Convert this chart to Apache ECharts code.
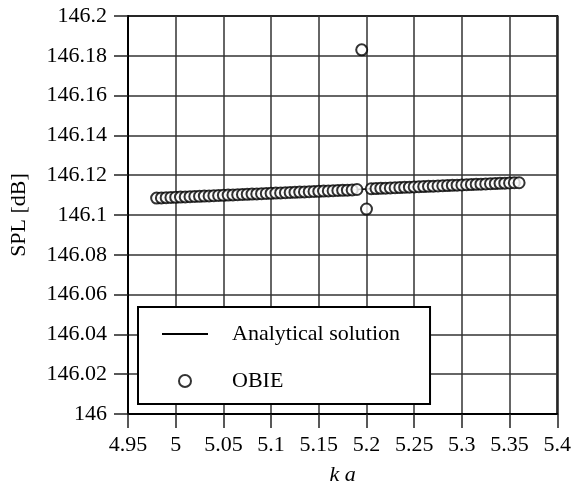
<!DOCTYPE html>
<html>
<head>
<meta charset="utf-8">
<script src="https://cdn.jsdelivr.net/npm/echarts@6/dist/echarts.min.js"></script>
<style>html,body{margin:0;padding:0;background:#fff}#c{width:574px;height:491px}</style>
</head>
<body>
<div id="c"></div>
<script>
// x-axis ticks
var xTicks = [4.95, 5, 5.05, 5.1, 5.15, 5.2, 5.25, 5.3, 5.35, 5.4];
var yTicks = [146, 146.02, 146.04, 146.06, 146.08, 146.1, 146.12, 146.14, 146.16, 146.18, 146.2];

// OBIE data
var obieX = [4.98,4.985,4.99,4.995,5.0,5.005,5.01,5.015,5.02,5.025,5.03,5.035,5.04,5.045,5.05,5.055,5.06,5.065,5.07,5.075,5.08,5.085,5.09,5.095,5.1,5.105,5.11,5.115,5.12,5.125,5.13,5.135,5.14,5.145,5.15,5.155,5.16,5.165,5.17,5.175,5.18,5.185,5.19,
  5.195,5.2,
  5.205,5.21,5.215,5.22,5.225,5.23,5.235,5.24,5.245,5.25,5.255,5.26,5.265,5.27,5.275,5.28,5.285,5.29,5.295,5.3,5.305,5.31,5.315,5.32,5.325,5.33,5.335,5.34,5.345,5.35,5.355,5.36];
var obieY = [146.1085,146.1086,146.1087,146.1088,146.1089,146.1090,146.1091,146.1092,146.1093,146.1094,146.1095,146.1096,146.1097,146.1098,146.1099,146.1100,146.1101,146.1102,146.1103,146.1104,146.1105,146.1106,146.1107,146.1108,146.1109,146.1110,146.1111,146.1112,146.1113,146.1114,146.1115,146.1116,146.1117,146.1118,146.1119,146.1120,146.1121,146.1122,146.1123,146.1124,146.1125,146.1126,146.1128,
  146.183,146.103,
  146.1132,146.1133,146.1134,146.1135,146.1136,146.1137,146.1138,146.1139,146.1140,146.1141,146.1142,146.1143,146.1144,146.1145,146.1146,146.1147,146.1148,146.1149,146.1150,146.1151,146.1152,146.1153,146.1154,146.1155,146.1156,146.1157,146.1158,146.1159,146.1160,146.1161,146.1162,146.1162];

// Analytical solution
var anaX = [4.98, 5.19, 5.205, 5.36];
var anaY = [146.1085, 146.1128, 146.1132, 146.1162];

function pairs(xs, ys){ return xs.map(function(x,i){ return [x, ys[i]]; }); }
function fmt(v){ return String(parseFloat(Number(v).toFixed(2))); }

var FONT = '"Liberation Serif", "DejaVu Serif", serif';
var chart = echarts.init(document.getElementById('c'), null, {renderer:'canvas'});
chart.setOption({
  animation: false,
  backgroundColor: '#fff',
  textStyle: {fontFamily: FONT},
  grid: {left:127, right:15, top:16, bottom:72, show:true, borderColor:'#000', borderWidth:2, backgroundColor:'transparent'},
  xAxis: {
    type:'value', min:xTicks[0], max:xTicks[xTicks.length-1], interval:0.05,
    name:'k a', nameLocation:'middle', nameGap:50,
    nameTextStyle:{fontFamily:FONT, fontSize:22, fontStyle:'italic', color:'#000'},
    axisLine:{show:true, onZero:false, lineStyle:{color:'#000', width:2}},
    axisTick:{show:true, inside:false, length:14, lineStyle:{color:'#222', width:1.5}},
    axisLabel:{formatter:fmt, fontFamily:FONT, fontSize:22, color:'#000', margin:20},
    splitLine:{show:true, lineStyle:{color:'#333', width:1.5}}
  },
  yAxis: {
    type:'value', min:yTicks[0], max:yTicks[yTicks.length-1], interval:0.02,
    name:'SPL [dB]', nameLocation:'middle', nameGap:98, nameRotate:90,
    nameTextStyle:{fontFamily:FONT, fontSize:22, color:'#000'},
    axisLine:{show:true, onZero:false, lineStyle:{color:'#000', width:2}},
    axisTick:{show:true, inside:false, length:14, lineStyle:{color:'#222', width:1.5}},
    axisLabel:{formatter:fmt, fontFamily:FONT, fontSize:22, color:'#000', margin:21},
    splitLine:{show:true, lineStyle:{color:'#333', width:1.5}}
  },
  legend: {
    orient:'vertical', left:138, top:307,
    backgroundColor:'#fff', borderColor:'#000', borderWidth:2, borderRadius:0,
    padding:[16, 30, 12, 24], itemGap:25, itemWidth:46, itemHeight:12,
    textStyle:{fontFamily:FONT, fontSize:22, color:'#000', lineHeight:18, padding:[0,0,0,19]},
    data:[
      {name:'Analytical solution', icon:'path://M0,0 L46,0 L46,2 L0,2 Z', itemStyle:{color:'#000'}},
      {name:'OBIE', itemStyle:{borderWidth:2}}
    ]
  },
  series: [
    {name:'Analytical solution', type:'line', data:pairs(anaX, anaY), symbol:'none', z:1,
     lineStyle:{color:'#000', width:1.5}, itemStyle:{color:'#000'}},
    {name:'OBIE', type:'scatter', data:pairs(obieX, obieY), symbol:'emptyCircle', symbolSize:11, z:2,
     itemStyle:{color:'#000', borderColor:'#000', borderWidth:2}}
  ]
});
</script>
</body>
</html>
